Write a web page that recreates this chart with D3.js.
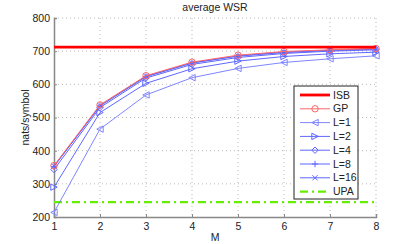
<!DOCTYPE html>
<html>
<head>
<meta charset="utf-8" />
<style>
html, body { margin: 0; padding: 0; background: #fff; }
svg { display: block; font-family: "Liberation Sans", Arial, sans-serif; }
</style>
</head>
<body>
<svg width="415" height="244"></svg>
<script src="https://cdn.jsdelivr.net/npm/d3@7/dist/d3.min.js"></script>
<script>
// data
var M = [1, 2, 3, 4, 5, 6, 7, 8];
var ISB = [712, 712, 712, 712, 712, 712, 712, 712];
var GP  = [355, 538, 626, 667, 688, 699, 704, 708];
var L1  = [214, 465, 568, 620, 648, 666, 677, 686];
var L2  = [290, 515, 603, 647, 670, 684, 692, 697];
var L4  = [343, 530, 619, 660, 681, 693, 700, 704];
var L8  = [352, 535, 623, 664, 685, 696, 702, 706];
var L16 = [353, 536, 624, 665, 686, 697, 703, 707];
var UPA = [245, 245, 245, 245, 245, 245, 245, 245];
var yTicks = [200, 300, 400, 500, 600, 700, 800];

var series = [
	{ name: "ISB", v: ISB, color: "#ff0000", width: 2.8, marker: null, dash: null },
	{ name: "GP", v: GP, color: "#ff6666", width: 1, marker: "circle", dash: null },
	{ name: "L=1", v: L1, color: "#7f86ff", width: 1, marker: "left", dash: null },
	{ name: "L=2", v: L2, color: "#5f67ff", width: 1, marker: "right", dash: null },
	{ name: "L=4", v: L4, color: "#5f67ff", width: 1, marker: "diamond", dash: null },
	{ name: "L=8", v: L8, color: "#5f67ff", width: 1, marker: "plus", dash: null },
	{ name: "L=16", v: L16, color: "#5f67ff", width: 1, marker: "cross", dash: null },
	{ name: "UPA", v: UPA, color: "#66ee00", width: 2.2, marker: null, dash: "8,4,2,4" }
];

main();

function main() {
	var svg = d3.select("svg");
	var pl = 54, pr = 376, pt = 18, pb = 217;

	var x = d3.scaleLinear().domain([1, 8]).range([pl, pr]);
	var y = d3.scaleLinear().domain([200, 800]).range([pb, pt]);

	// grid
	var grid = svg.append("g").attr("stroke", "#bbb").attr("stroke-dasharray", "1,3").attr("stroke-width", 1);
	grid.selectAll(".gx").data(M.slice(1)).enter().append("line")
		.attr("x1", function(d){ return x(d); }).attr("x2", function(d){ return x(d); })
		.attr("y1", pt).attr("y2", pb);
	grid.selectAll(".gy").data(yTicks.slice(1)).enter().append("line")
		.attr("x1", pl).attr("x2", pr)
		.attr("y1", function(d){ return y(d); }).attr("y2", function(d){ return y(d); });

	// axes
	var xAxis = d3.axisBottom(x).tickValues(M).tickSize(-3).tickPadding(6).tickFormat(d3.format("d"));
	var yAxis = d3.axisLeft(y).tickValues(yTicks).tickSize(-3).tickPadding(4).tickFormat(d3.format("d"));

	var gx = svg.append("g").attr("transform", "translate(0," + pb + ")").call(xAxis);
	var gy = svg.append("g").attr("transform", "translate(" + pl + ",0)").call(yAxis);
	[gx, gy].forEach(function(g){
		g.select(".domain").attr("stroke", "#888").attr("stroke-width", 1.5);
		g.selectAll(".tick line").attr("stroke", "#888");
		g.selectAll("text").attr("fill", "#222").style("font-size", "10.5px");
	});

	// titles
	svg.append("text").attr("x", 215).attr("y", 11).attr("text-anchor", "middle")
		.style("font-size", "10.5px").attr("fill", "#222").text("average WSR");
	svg.append("text").attr("x", 215).attr("y", 241).attr("text-anchor", "middle")
		.style("font-size", "10.5px").attr("fill", "#222").text("M");
	svg.append("text").attr("transform", "translate(29," + (pt + pb) / 2 + ") rotate(-90)")
		.attr("text-anchor", "middle").style("font-size", "10.5px").attr("fill", "#222").text("nats/symbol");

	var line = d3.line().x(function(d, i){ return x(M[i]); }).y(function(d){ return y(d); });

	// draw bottom to top so GP/ISB sit on top like the reference
	var order = ["UPA", "L=1", "L=2", "L=4", "L=8", "L=16", "GP", "ISB"];
	order.forEach(function(name){
		var s = series.find(function(d){ return d.name === name; });
		var g = svg.append("g");
		g.append("path").attr("d", line(s.v)).attr("fill", "none")
			.attr("stroke", s.color).attr("stroke-width", s.width)
			.attr("stroke-dasharray", s.dash);
		if (s.marker) {
			s.v.forEach(function(v, i){ drawMarker(g, s.marker, x(M[i]), y(v), s.color); });
		}
	});

	// legend
	var lx = 294, ly = 86, lw = 64, lh = 113, step = 13.8;
	var leg = svg.append("g");
	leg.append("rect").attr("x", lx).attr("y", ly).attr("width", lw).attr("height", lh)
		.attr("fill", "#fff").attr("stroke", "#222").attr("stroke-width", 1);
	series.forEach(function(s, i){
		var yy = ly + 9 + i * step;
		leg.append("line").attr("x1", lx + 6).attr("x2", lx + 36).attr("y1", yy).attr("y2", yy)
			.attr("stroke", s.color).attr("stroke-width", s.width).attr("stroke-dasharray", s.dash);
		if (s.marker) drawMarker(leg, s.marker, lx + 21, yy, s.color);
		leg.append("text").attr("x", lx + 39).attr("y", yy).attr("dy", "0.35em")
			.style("font-size", "10.5px").attr("fill", "#222").text(s.name);
	});
}

function drawMarker(g, type, cx, cy, color) {
	var s = 3.2;
	if (type === "circle") {
		g.append("circle").attr("cx", cx).attr("cy", cy).attr("r", s)
			.attr("fill", "none").attr("stroke", color);
	} else if (type === "left") {
		g.append("path").attr("d", "M" + (cx - s) + "," + cy + "L" + (cx + s) + "," + (cy - s) + "L" + (cx + s) + "," + (cy + s) + "Z")
			.attr("fill", "none").attr("stroke", color);
	} else if (type === "right") {
		g.append("path").attr("d", "M" + (cx + s) + "," + cy + "L" + (cx - s) + "," + (cy - s) + "L" + (cx - s) + "," + (cy + s) + "Z")
			.attr("fill", "none").attr("stroke", color);
	} else if (type === "diamond") {
		g.append("path").attr("d", "M" + cx + "," + (cy - s) + "L" + (cx + s) + "," + cy + "L" + cx + "," + (cy + s) + "L" + (cx - s) + "," + cy + "Z")
			.attr("fill", "none").attr("stroke", color);
	} else if (type === "plus") {
		g.append("path").attr("d", "M" + (cx - s) + "," + cy + "H" + (cx + s) + "M" + cx + "," + (cy - s) + "V" + (cy + s))
			.attr("stroke", color);
	} else if (type === "cross") {
		var c = s * 0.8;
		g.append("path").attr("d", "M" + (cx - c) + "," + (cy - c) + "L" + (cx + c) + "," + (cy + c) + "M" + (cx - c) + "," + (cy + c) + "L" + (cx + c) + "," + (cy - c))
			.attr("stroke", color);
	}
}
</script>
</body>
</html>
